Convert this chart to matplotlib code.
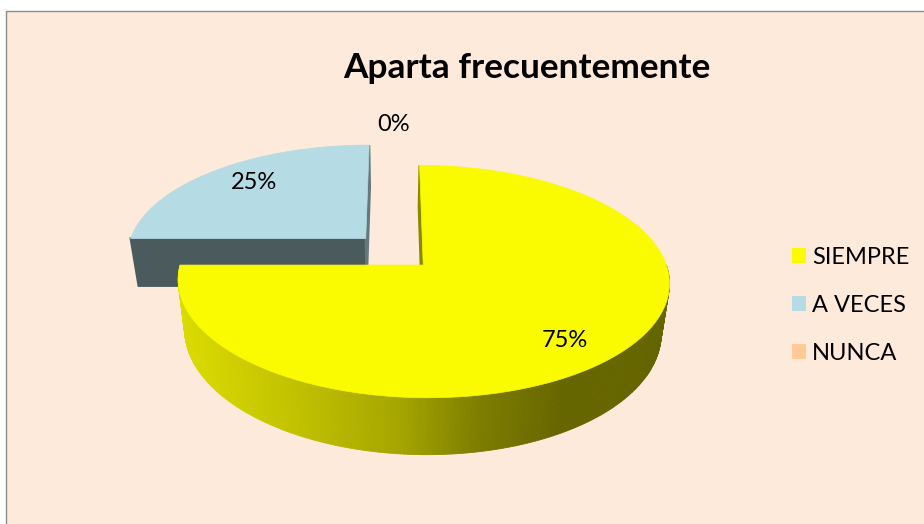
import numpy as np
import matplotlib
matplotlib.use("Agg")
import matplotlib.pyplot as plt
from matplotlib.patches import Polygon, Rectangle, Patch
from matplotlib.colors import to_rgb

# ---------------- data ----------------
categories = ["SIEMPRE", "A VECES", "NUNCA"]
values = [75, 25, 0]
pct_labels = ["75%", "25%", "0%"]
slice_colors = ["#FAFA00", "#B5DBE4", "#FFCA96"]
title = "Aparta frecuentemente"

# ---------------- layout / style ----------------
W, H_FIG = 924, 524
BG = "#FDEADA"
FONT = ["Lato", "DejaVu Sans"]
CX, CY = 394.0, 251.6      # pie centre (pixels)
R = 239.0                  # horizontal radius
A = 110.0                  # vertical (depth) radius
K = 0.14                   # perspective strength
DEPTH = 48.0               # thickness of pie
M = 0.03                   # slight perspective on the thickness
EXPLODE = 0.17
LABEL_RX, LABEL_RZ = 0.74, 0.84
ZERO_LABEL_R = 1.24
LABEL_DY = 2.0

fig = plt.figure(figsize=(W / 100, H_FIG / 100), dpi=100)
fig.patch.set_facecolor("white")
ax = fig.add_axes([0, 0, 1, 1])
ax.set_xlim(0, W)
ax.set_ylim(H_FIG, 0)
ax.axis("off")

ax.add_patch(Rectangle((5.5, 10.5), W + 10, H_FIG + 10, facecolor=BG,
                       edgecolor="#8C8C8C", linewidth=1.0, zorder=0))


def proj(X, Z, h):
    d = 1.0 / (1.0 - K * Z)
    sx = CX + R * X * d * (1 - M * h)
    sy = CY + (A * Z + DEPTH * h) * d
    return sx, sy


def shade(base, f):
    r, g, b = to_rgb(base)
    return (r * f, g * f, b * f)


# screen-x dependent shading of the side wall
shade_x = [150, 180, 300, 400, 480, 560, 720]
shade_f = [0.9, 0.88, 0.77, 0.66, 0.5, 0.41, 0.4]

total = float(sum(values))
cum = np.concatenate([[0], np.cumsum(values)])
slices = []
for i, v in enumerate(values):
    t1 = 90 - 360 * cum[i] / total
    t2 = 90 - 360 * cum[i + 1] / total
    mid = np.radians((t1 + t2) / 2)
    ex, ez = EXPLODE * np.cos(mid), -EXPLODE * np.sin(mid)
    slices.append(dict(i=i, t1=t1, t2=t2, mid=mid, ex=ex, ez=ez))


def rim(s, t, h, rx=1.0, rz=None):
    if rz is None:
        rz = rx
    tr = np.radians(t)
    return proj(s["ex"] + rx * np.cos(tr), s["ez"] - rz * np.sin(tr), h)


def apex(s, h):
    return proj(s["ex"], s["ez"], h)


z = 2
for s in sorted(slices, key=lambda s: s["ez"]):
    i = s["i"]
    if values[i] == 0:
        continue
    base = slice_colors[i]
    t1, t2 = s["t1"], s["t2"]
    # curved outer wall: only front-facing part (angles where -sin(t) > 0)
    ts = np.linspace(t2, t1, 400)
    for a0, a1 in zip(ts[:-1], ts[1:]):
        m = (a0 + a1) / 2
        if -np.sin(np.radians(m)) <= 0:
            continue
        p = [rim(s, a0, 0), rim(s, a1, 0), rim(s, a1, 1), rim(s, a0, 1)]
        xm = np.mean([q[0] for q in p])
        col = shade(base, np.interp(xm, shade_x, shade_f))
        ax.add_patch(Polygon(p, closed=True, facecolor=col, edgecolor=col,
                             linewidth=0.6, zorder=z))
    z += 1
    # radial faces
    for t, nz in ((t1, -np.cos(np.radians(t1))), (t2, np.cos(np.radians(t2)))):
        if nz < -0.01:
            continue
        f = 0.41 if nz > 0.5 else 0.55
        col = shade(base, f)
        p = [apex(s, 0), rim(s, t, 0), rim(s, t, 1), apex(s, 1)]
        ax.add_patch(Polygon(p, closed=True, facecolor=col, edgecolor=col,
                             linewidth=1.6, zorder=z))
    z += 1
    # top face
    tt = np.linspace(t1, t2, 200)
    p = [apex(s, 0)] + [rim(s, t, 0) for t in tt]
    ax.add_patch(Polygon(p, closed=True, facecolor=base, edgecolor=base,
                         linewidth=0.5, zorder=z))
    z += 1

# percentage labels
for s in slices:
    i = s["i"]
    if values[i] == 0:
        lx, ly = rim(s, s["t1"], 0, rx=ZERO_LABEL_R)
    else:
        lx, ly = rim(s, (s["t1"] + s["t2"]) / 2, 0, rx=LABEL_RX, rz=LABEL_RZ)
    ax.text(lx, ly + LABEL_DY, pct_labels[i], fontsize=17, family=FONT,
            color="black", ha="center", va="center", zorder=50)

# title
ax.text(527, 68, title, fontsize=25.4, fontweight="bold", family=FONT,
        ha="center", va="center", color="black", zorder=50)

# legend
handles = [Patch(facecolor=c, edgecolor="none") for c in slice_colors]
leg = ax.legend(handles, categories, loc="upper left",
                bbox_to_anchor=(792, 247), bbox_transform=ax.transData,
                frameon=False, prop={"family": FONT, "size": 17},
                handlelength=0.59, handleheight=0.59, handletextpad=0.25,
                labelspacing=1.14, borderpad=0, borderaxespad=0)

fig.savefig("out.png", dpi=100, facecolor="white")
